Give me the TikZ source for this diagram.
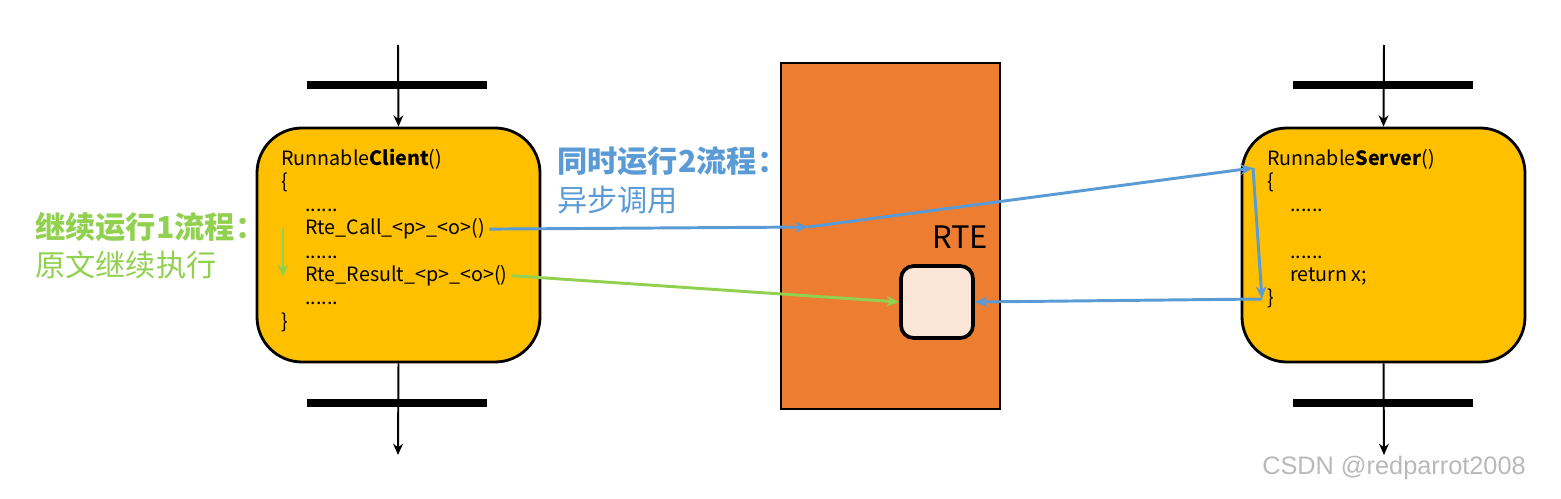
\documentclass[tikz,border=0pt]{standalone}
\usepackage{fontspec}
\setmainfont{Noto Sans CJK SC}
\newfontfamily\markfont{Liberation Sans}
\usetikzlibrary{arrows.meta}
\definecolor{rteorange}{RGB}{237, 125, 49}
\definecolor{rbgold}{RGB}{255, 192, 0}
\definecolor{bufpeach}{RGB}{251, 229, 214}
\definecolor{callblue}{RGB}{91, 155, 213}
\definecolor{goongreen}{RGB}{146, 208, 80}
\tikzset{
  runbox/.style={draw=black, line width=2pt, fill=rbgold, rounded corners=32pt,
    minimum width=283*0.025cm, minimum height=234*0.025cm},
  codeline/.style={anchor=base west, inner sep=0pt, font=\fontsize{14}{16}\selectfont},
  bar/.style={line width=5.8pt},
  tick/.style={line width=1.4pt, -{Stealth[length=8pt, width=7pt]}},
  bluearrow/.style={callblue, line width=2.1pt, -{Stealth[length=9pt, width=7.5pt]}},
  greenarrow/.style={goongreen, line width=2.1pt, -{Stealth[length=9pt, width=7.5pt]}},
  note/.style={anchor=base west, inner sep=0pt, font=\fontsize{21.5}{24}\selectfont}
}
\begin{document}
\begin{tikzpicture}[x=0.025cm, y=-0.025cm]
  \useasboundingbox (0,0) rectangle (1561,499);

  % Client runnable
  \node[runbox] (client) at (398.5,245) {};
  \coordinate (ctop) at (398,45);
  \coordinate (cbot) at (398,455);
  \draw[bar] (307,85) -- (487,85);
  \draw[bar] (307,403) -- (487,403);
  \draw[tick] (ctop) -- (client.north);
  \draw[tick] (client.south) -- (cbot);
  \node[codeline] (chead) at (281,165) {Runnable\textbf{Client}()};
  \node[codeline] at (281,188.3) {\{};
  \node[codeline] at (305,211.6) {......};
  \node[codeline] (call) at (305,234.9) {Rte\_Call\_<p>\_<o>()};
  \node[codeline] at (305,258.2) {......};
  \node[codeline] (result) at (305,281.5) {Rte\_Result\_<p>\_<o>()};
  \node[codeline] at (305,304.8) {......};
  \node[codeline] at (281,328.1) {\}};

  % RTE
  \node[draw=black, line width=2pt, fill=rteorange, minimum width=219*0.025cm,
    minimum height=346*0.025cm, inner sep=0pt] (rte) at (890.5,236) {};
  \node[inner sep=0pt, font=\fontsize{22}{26}\selectfont] (rtelabel) at (960,237) {RTE};
  \node[draw=black, line width=2.6pt, fill=bufpeach, rounded corners=9pt,
    minimum width=72*0.025cm, minimum height=72*0.025cm, inner sep=0pt] (buf) at (937,302) {};

  % Server runnable
  \node[runbox] (server) at (1383.5,245) {};
  \coordinate (stop) at (1384,45);
  \coordinate (sbot) at (1384,455);
  \draw[bar] (1293,85) -- (1473,85);
  \draw[bar] (1293,403) -- (1473,403);
  \draw[tick] (stop) -- (server.north);
  \draw[tick] (server.south) -- (sbot);
  \node[codeline] (shead) at (1267,165) {Runnable\textbf{Server}()};
  \node[codeline] at (1267,188.3) {\{};
  \node[codeline] at (1290,211.6) {......};
  \node[codeline] at (1290,258.2) {......};
  \node[codeline] (ret) at (1290,281.5) {return x;};
  \node[codeline] (sclose) at (1267,304.8) {\}};

  % Flow 2: asynchronous call
  \coordinate (rtein) at (808,227);
  \coordinate (srvin) at (1253,168);
  \coordinate (srvout) at (1262,299);
  \draw[bluearrow] (call.east) ++(3pt,0) -- (rtein);
  \draw[bluearrow] (rtein) -- (srvin);
  \draw[bluearrow] (srvin) -- (srvout);
  \draw[bluearrow] (srvout) -- (buf.east);
  \node[note, callblue, font=\fontsize{21.5}{24}\selectfont\bfseries] (flow2) at (557,173) {同时运行2流程：};
  \node[note, callblue] (flow2sub) at (557,211) {异步调用};

  % Flow 1: client carries on
  \coordinate (cstart) at (283,228);
  \coordinate (cend) at (283,277);
  \draw[greenarrow] (cstart) -- (cend);
  \draw[greenarrow] (result.east) ++(3pt,0) -- (buf.west);
  \node[note, goongreen, font=\fontsize{21.5}{24}\selectfont\bfseries] (flow1) at (35,238) {继续运行1流程：};
  \node[note, goongreen] (flow1sub) at (35,276) {原文继续执行};

  % Watermark
  \node[inner sep=0pt, gray!55, font=\markfont\fontsize{18}{20}\selectfont] (mark) at (1394,468) {CSDN @redparrot2008};
\end{tikzpicture}
\end{document}
